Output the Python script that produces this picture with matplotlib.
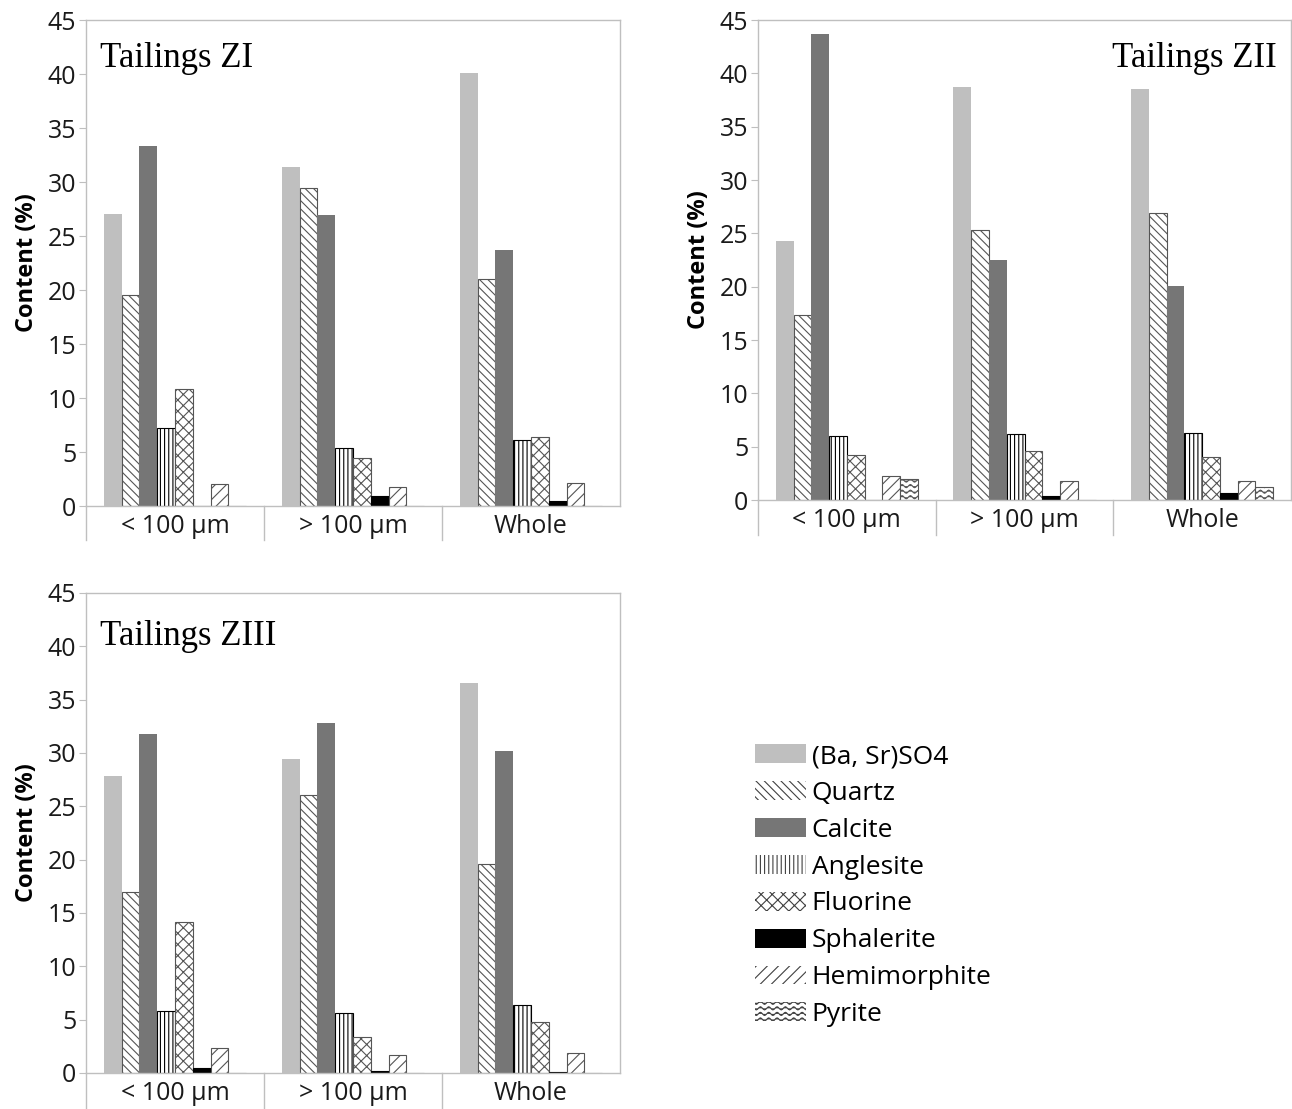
import numpy as np
import matplotlib
matplotlib.use("Agg")
import matplotlib.pyplot as plt
import matplotlib.hatch as mhatch
from matplotlib.path import Path
from matplotlib.patches import Patch
import warnings

warnings.filterwarnings("ignore")

categories = ['< 100 µm', '> 100 µm', 'Whole']
minerals = ['(Ba, Sr)SO4', 'Quartz', 'Calcite', 'Anglesite', 'Fluorine',
            'Sphalerite', 'Hemimorphite', 'Pyrite']

# content (%) per mineral, in the order of `minerals`
zi_fine = [27.0, 19.5, 33.3, 7.2, 10.8, 0.0, 2.0, 0.0]
zi_coarse = [31.4, 29.4, 26.9, 5.4, 4.4, 0.9, 1.8, 0.0]
zi_whole = [40.1, 21.0, 23.7, 6.1, 6.4, 0.5, 2.1, 0.0]

zii_fine = [24.3, 17.3, 43.7, 6.0, 4.2, 0.0, 2.25, 2.0]
zii_coarse = [38.7, 25.3, 22.5, 6.2, 4.6, 0.4, 1.8, 0.0]
zii_whole = [38.5, 26.9, 20.1, 6.3, 4.0, 0.7, 1.8, 1.2]

ziii_fine = [27.8, 17.0, 31.8, 5.8, 14.2, 0.5, 2.3, 0.0]
ziii_coarse = [29.4, 26.1, 32.8, 5.6, 3.4, 0.15, 1.7, 0.0]
ziii_whole = [36.6, 19.6, 30.2, 6.4, 4.8, 0.1, 1.9, 0.0]

yticks = [0, 5, 10, 15, 20, 25, 30, 35, 40, 45]


# wavy hatch for pyrite (matplotlib has none built in)
class WavyHatch(mhatch.HatchPatternBase):
    npts = 97

    def __init__(self, hatch, density):
        self.num_lines = int(hatch.count('~') * density)
        self.num_vertices = self.num_lines * self.npts

    def set_vertices_and_codes(self, vertices, codes):
        xs = np.linspace(0, 1, self.npts)
        amp = 0.28 / self.num_lines
        for k in range(self.num_lines):
            y0 = (k + 0.5) / self.num_lines
            seg = slice(k * self.npts, (k + 1) * self.npts)
            vertices[seg, 0] = xs
            vertices[seg, 1] = y0 + amp * np.sin(2 * np.pi * 12 * xs)
            codes[seg] = Path.LINETO
            codes[k * self.npts] = Path.MOVETO


mhatch._hatch_types.append(WavyHatch)

plt.rcParams['font.family'] = ['Open Sans', 'DejaVu Sans']
plt.rcParams['hatch.linewidth'] = 0.8
plt.rcParams['hatch.color'] = '#404040'

faces = ['#BFBFBF', 'white', '#767676', 'white', 'white', 'black', 'white', 'white']
hatches = [None, '\\\\\\\\', None, '||||', 'xxx', None, '///', '~~~']
edges = ['none', '#555555', 'none', 'black', '#555555', 'black', '#555555', '#555555']
grid = '#BFBFBF'

W, H = 1292, 1109
fig = plt.figure(figsize=(W / 100, H / 100), dpi=100)


def px_rect(left, right, top, bottom):
    return [left / W, 1 - bottom / H, (right - left) / W, (bottom - top) / H]


def panel(rect, fine, coarse, whole, title, title_x, title_y, ha, drop):
    ax = fig.add_axes(rect)
    x = np.arange(len(categories))
    for j, name in enumerate(minerals):
        vals = [fine[j], coarse[j], whole[j]]
        ax.bar(x + (j - 3.5) * 0.1, vals, width=0.1, color=faces[j],
               hatch=hatches[j], edgecolor=edges[j], linewidth=0.8, label=name)
    ax.set_xlim(-0.5, 2.5)
    ax.set_ylim(0, 45)
    ax.set_yticks(yticks)
    ax.tick_params(axis='y', length=5, width=0.8, color=grid, pad=2,
                   labelsize=18, labelcolor='#1a1a1a')
    ax.set_xticks(x)
    ax.set_xticklabels(categories)
    ax.tick_params(axis='x', length=0, pad=6, labelsize=18, labelcolor='#1a1a1a')
    for s in ax.spines.values():
        s.set_color(grid)
        s.set_linewidth(1.0)
    # category separators below the axis, Excel style
    h_px = rect[3] * H
    d = drop / h_px
    for xs in [-0.5, 0.5, 1.5]:
        ax.plot([xs, xs], [0, -d], color=grid, lw=1.0,
                transform=ax.get_xaxis_transform(), clip_on=False)
    ax.set_ylabel('Content (%)', fontsize=17, fontweight='bold', labelpad=6)
    ax.text(title_x, title_y, title, transform=ax.transAxes, ha=ha,
            va='baseline', fontsize=25, family='Liberation Serif')
    return ax


panel(px_rect(86, 620, 20, 506), zi_fine, zi_coarse, zi_whole,
      'Tailings ZI', 0.026, 0.903, 'left', 34)
panel(px_rect(758, 1291, 20, 500), zii_fine, zii_coarse, zii_whole,
      'Tailings ZII', 0.974, 0.902, 'right', 35)
panel(px_rect(86, 620, 593, 1073), ziii_fine, ziii_coarse, ziii_whole,
      'Tailings ZIII', 0.026, 0.892, 'left', 36)

handles = []
for j, name in enumerate(minerals):
    if hatches[j] is None:
        handles.append(Patch(facecolor=faces[j], edgecolor='none', label=name))
    else:
        handles.append(Patch(facecolor='white', hatch=hatches[j], linewidth=0,
                             label=name))

fig.legend(handles=handles, loc='upper left',
           bbox_to_anchor=(755 / W, 1 - 744 / H), frameon=False,
           fontsize=19, handlelength=1.95, handleheight=0.72,
           handletextpad=0.2, labelspacing=0.45, borderpad=0, borderaxespad=0)

fig.savefig('out.png', dpi=100)
